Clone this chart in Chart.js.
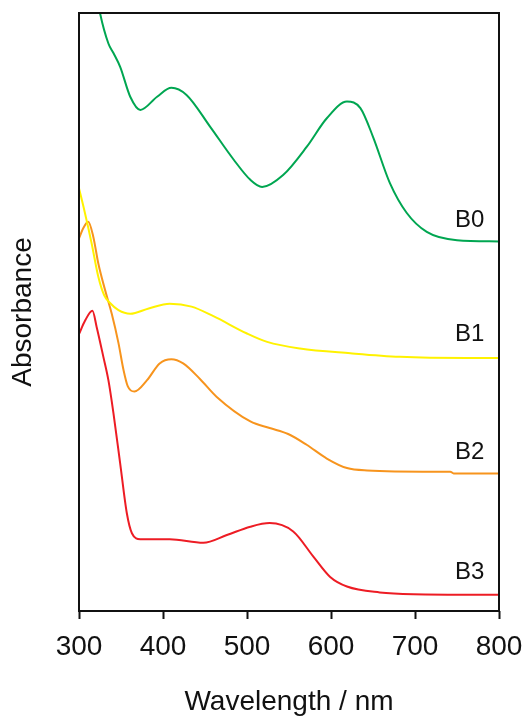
<!DOCTYPE html>
<html>
<head>
<meta charset="utf-8">
<script src="https://cdn.jsdelivr.net/npm/chart.js@4/dist/chart.umd.min.js"></script>
<style>
  html, body { margin: 0; padding: 0; background: #fff; }
  #absChart { display: block; }
</style>
</head>
<body>
<canvas id="absChart" width="525" height="716"></canvas>
<script>
// spectra (wavelength in nm, absorbance in arbitrary units)
var b0Wl  = [315, 325, 335, 341, 349, 361, 373, 393, 410, 428, 456, 484, 504, 518, 543, 571, 595, 619, 635, 650, 670, 690, 714, 750, 800];
var b0Abs = [108, 100, 94.9, 93.3, 91.0, 86.0, 83.8, 86.0, 87.5, 86.3, 81.0, 75.5, 72.1, 70.9, 72.9, 77.6, 82.4, 85.2, 84.1, 79.3, 71.6, 66.6, 63.4, 62.0, 61.8];

var b1Wl  = [300, 307, 315, 323, 330, 337, 347, 361, 383, 408, 434, 460, 500, 524, 563, 623, 682, 762, 800];
var b1Abs = [70.7, 66.6, 61.5, 55.9, 52.8, 51.5, 50.3, 49.7, 50.6, 51.4, 50.9, 49.3, 46.4, 45.0, 43.9, 43.1, 42.5, 42.3, 42.3];

var b2Wl  = [300, 305, 311, 317, 323, 331, 339, 347, 353, 358, 366, 381, 396, 410, 424, 444, 464, 504, 527, 549, 571, 595, 619, 643, 722, 742, 746, 800];
var b2Abs = [62.3, 64.0, 65.1, 62.6, 58.1, 53.7, 49.7, 44.8, 40.3, 37.6, 36.7, 38.6, 41.4, 42.1, 41.4, 38.8, 35.8, 31.7, 30.6, 29.6, 27.8, 25.5, 23.9, 23.5, 23.3, 23.3, 23.0, 23.0];

var b3Wl  = [300, 307, 316, 321, 329, 335, 341, 349, 357, 363, 373, 408, 448, 476, 504, 527, 555, 579, 599, 619, 658, 698, 800];
var b3Abs = [46.3, 48.5, 50.2, 47.5, 42.5, 38.6, 33.1, 24.7, 16.3, 13.0, 12.0, 12.0, 11.4, 12.7, 14.1, 14.7, 13.3, 9.1, 5.7, 4.1, 3.1, 2.8, 2.7];

var seriesNames  = ["B0", "B1", "B2", "B3"];
var seriesColors = ["#00a651", "#fff200", "#f7941d", "#ed1c24"];
var labelWl  = [765, 765, 765, 765];
var labelAbs = [65.4, 46.2, 26.6, 6.4];

var xTicks = [300, 400, 500, 600, 700, 800];

function toPoints(wl, abs) {
    return wl.map(function (w, i) { return { x: w, y: abs[i] }; });
}

var FONT = "'Liberation Sans', Arial, Helvetica, sans-serif";

// box round the plot plus the B0..B3 tags
var framePlugin = {
    id: "frame",
    afterDatasetsDraw: function (chart) {
        var ctx = chart.ctx, a = chart.chartArea;
        ctx.save();
        ctx.strokeStyle = "#111";
        ctx.lineWidth = 2;
        ctx.strokeRect(a.left, a.top, a.right - a.left, a.bottom - a.top);
        ctx.fillStyle = "#111";
        ctx.font = "24px " + FONT;
        ctx.textAlign = "center";
        ctx.textBaseline = "middle";
        seriesNames.forEach(function (name, i) {
            ctx.fillText(name,
                chart.scales.x.getPixelForValue(labelWl[i]),
                chart.scales.y.getPixelForValue(labelAbs[i]));
        });
        ctx.restore();
    }
};

var datasets = [
    toPoints(b0Wl, b0Abs),
    toPoints(b1Wl, b1Abs),
    toPoints(b2Wl, b2Abs),
    toPoints(b3Wl, b3Abs)
].map(function (pts, i) {
    return {
        label: seriesNames[i],
        data: pts,
        borderColor: seriesColors[i],
        borderWidth: 2,
        pointRadius: 0,
        fill: false,
        cubicInterpolationMode: "monotone"
    };
});

var absChart = new Chart(document.getElementById("absChart"), {
    type: "line",
    data: { datasets: datasets },
    options: {
        responsive: false,
        animation: false,
        layout: { padding: { top: 13, right: 26, bottom: 0, left: 9 } },
        plugins: { legend: { display: false }, tooltip: { enabled: false } },
        scales: {
            x: {
                type: "linear",
                min: 300,
                max: 800,
                afterBuildTicks: function (axis) {
                    axis.ticks = xTicks.map(function (v) { return { value: v }; });
                },
                afterFit: function (axis) {
                    axis.height = 105;
                    axis.paddingLeft = 0;
                    axis.paddingRight = 0;
                },
                border: { display: false },
                grid: {
                    drawOnChartArea: false,
                    drawTicks: true,
                    tickLength: 8,
                    tickWidth: 2,
                    tickColor: "#111"
                },
                ticks: {
                    color: "#111",
                    padding: 14,
                    maxRotation: 0,
                    font: { family: FONT, size: 28, lineHeight: 1 }
                },
                title: {
                    display: true,
                    text: "Wavelength / nm",
                    color: "#111",
                    padding: 0,
                    font: { family: FONT, size: 28, lineHeight: 1 }
                }
            },
            y: {
                min: 0,
                max: 100,
                afterFit: function (axis) { axis.width = 70; },
                border: { display: false },
                grid: { display: false },
                ticks: { display: false },
                title: {
                    display: true,
                    text: "Absorbance",
                    color: "#111",
                    padding: 0,
                    font: { family: FONT, size: 28, lineHeight: 1 }
                }
            }
        }
    },
    plugins: [framePlugin]
});
</script>
</body>
</html>
